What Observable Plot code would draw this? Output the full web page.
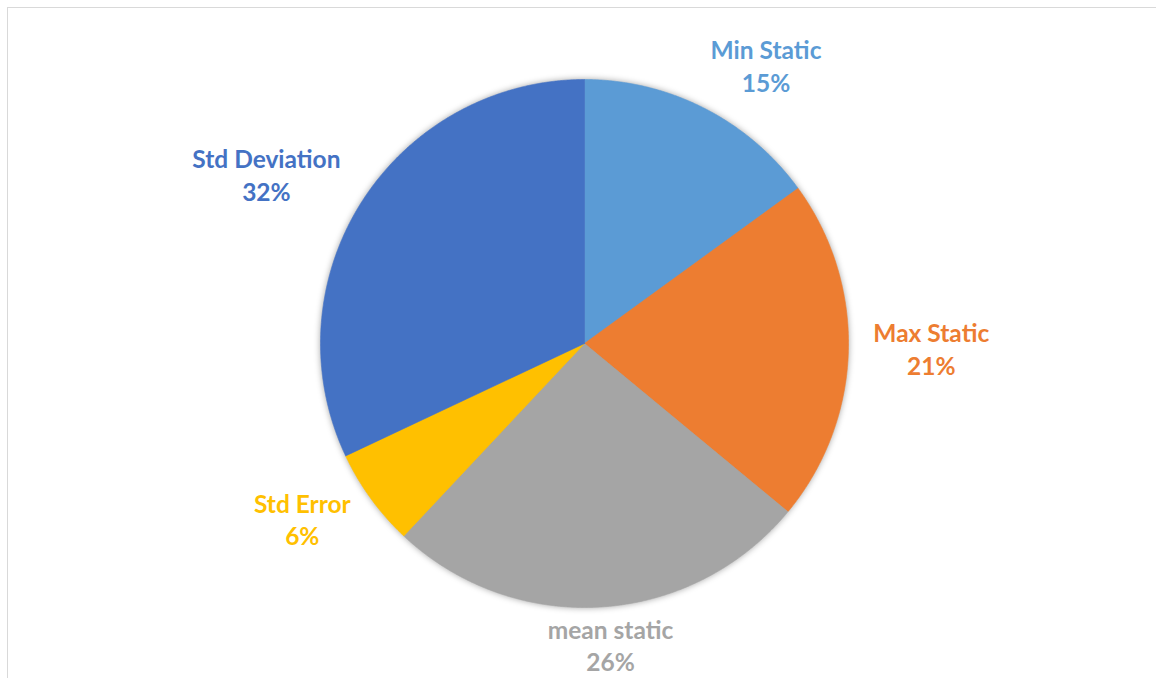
<!DOCTYPE html>
<html>
<head>
<meta charset="utf-8">
<script src="https://cdn.jsdelivr.net/npm/d3@7"></script>
<script src="https://cdn.jsdelivr.net/npm/@observablehq/plot@0.6"></script>
<style>
  html, body { margin: 0; padding: 0; background: #fff; }
  #wrap { position: relative; width: 1156px; height: 678px; overflow: hidden; }
  #frame { position: absolute; left: 7px; top: 7px; width: 1200px; height: 720px;
           border-left: 1.5px solid #d9d9d9; border-top: 1.5px solid #d9d9d9; }
  #chart { position: absolute; left: 0; top: 0; }
</style>
</head>
<body>
<div id="wrap"><div id="frame"></div><div id="chart"></div></div>
<script>
// ---- data ----
const categories = ["Min Static", "Max Static", "mean static", "Std Error", "Std Deviation"];
const values = [15, 21, 26, 6, 32];
const percentLabels = ["15%", "21%", "26%", "6%", "32%"];
const colors = ["#5B9BD5", "#ED7D31", "#A5A5A5", "#FFC000", "#4472C4"];

// ---- layout ----
const W = 1156, H = 678;
const cx = 584, cy = 343, R = 264;
const fontSize = 24.5, lineHeight = 1.33;
const fontFamily = "Lato, 'Open Sans', sans-serif";

const rows = categories.map((name, i) => ({name, value: values[i], pct: percentLabels[i]}));
const arcs = d3.pie().sort(null).value(d => d.value)(rows);

// slice outlines
const slicePts = [];
for (const a of arcs) {
  slicePts.push({name: a.data.name, x: cx, y: cy});
  const n = Math.max(2, Math.ceil((a.endAngle - a.startAngle) / 0.005));
  for (let k = 0; k <= n; k++) {
    const t = a.startAngle + (a.endAngle - a.startAngle) * k / n;
    slicePts.push({name: a.data.name, x: cx + R * Math.sin(t), y: cy - R * Math.cos(t)});
  }
  slicePts.push({name: a.data.name, x: cx, y: cy});
}

// label placement (outside end)
const ctx = document.createElement("canvas").getContext("2d");
ctx.font = `bold ${fontSize}px ${fontFamily}`;
const gx = 25, gy = 10, shiftY = -5;
const labelRows = arcs.map(a => {
  const m = (a.startAngle + a.endAngle) / 2;
  const s = Math.sin(m), c = Math.cos(m);
  const w = Math.max(ctx.measureText(a.data.name).width, ctx.measureText(a.data.pct).width);
  const h = 2 * lineHeight * fontSize;
  const k = Math.max(-1, Math.min(1, 2 * s));
  return {
    name: a.data.name,
    text: a.data.name + "\n" + a.data.pct,
    x: cx + (R + gx) * s + (w / 2) * k,
    y: cy - (R + gy) * c - (h / 2) * c + shiftY
  };
});

const color = {domain: categories, range: colors};

const plot = Plot.plot({
  width: W, height: H,
  margin: 0,
  x: {domain: [0, W], range: [0, W], axis: null},
  y: {domain: [0, H], range: [0, H], axis: null},
  color,
  style: {background: "transparent", overflow: "visible"},
  marks: [
    Plot.line(slicePts, {x: "x", y: "y", z: "name", fill: "name", stroke: "name", strokeWidth: 0.6, curve: "linear"}),
    Plot.text(labelRows, {
      x: "x", y: "y", text: "text", fill: "name",
      fontSize, fontWeight: "bold", fontFamily,
      lineHeight, textAnchor: "middle", lineAnchor: "middle"
    })
  ]
});

const g = plot.querySelector('g[aria-label="line"]');
if (g) g.style.filter = "drop-shadow(0px 0px 3px rgba(0,0,0,0.35))";
document.getElementById("chart").appendChild(plot);
</script>
</body>
</html>
